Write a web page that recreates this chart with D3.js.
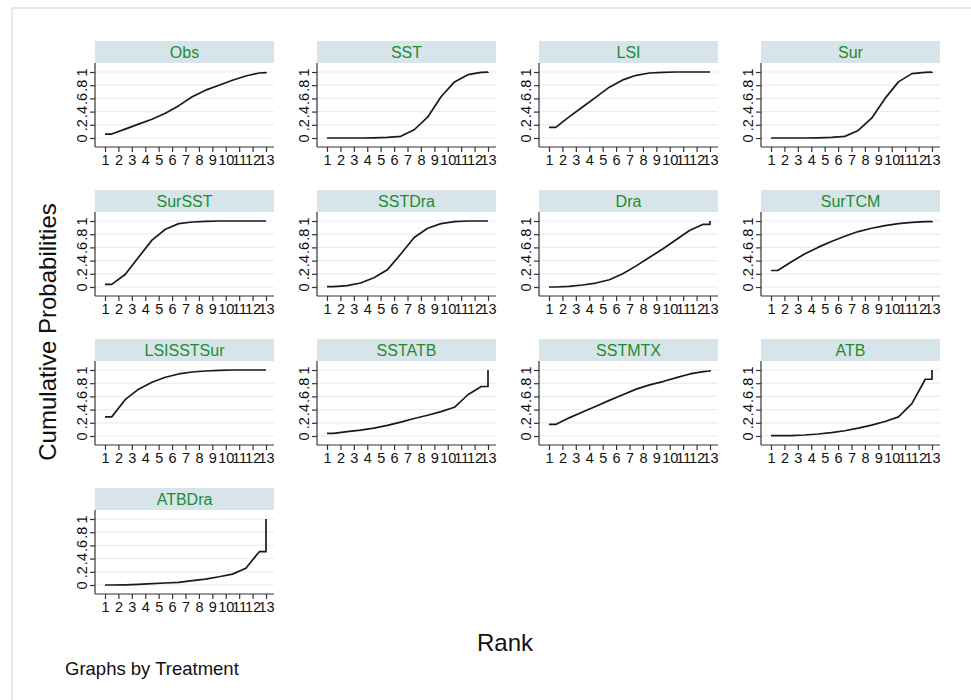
<!DOCTYPE html>
<html>
<head>
<meta charset="utf-8">
<script src="https://cdn.jsdelivr.net/npm/d3@7"></script>
<style>
  body { margin: 0; background: #ffffff; }
  svg { font-family: "Liberation Sans", Arial, sans-serif; }
</style>
</head>
<body>
<script>
// treatments, in panel order
var treatments = ["Obs", "SST", "LSI", "Sur", "SurSST", "SSTDra", "Dra", "SurTCM",
                  "LSISSTSur", "SSTATB", "SSTMTX", "ATB", "ATBDra"];

// rank positions of the plotted points (start, mid-ranks, end, end jump)
var ranks = [1, 1.5, 2.5, 3.5, 4.5, 5.5, 6.5, 7.5, 8.5, 9.5, 10.5, 11.5, 12.5, 13, 13];

// cumulative probabilities for each treatment
var obs       = [0.06, 0.06, 0.135, 0.21, 0.285, 0.375, 0.49, 0.625, 0.725, 0.80, 0.875, 0.94, 0.985, 0.99, 1];
var sst       = [0, 0, 0, 0, 0.002, 0.008, 0.025, 0.125, 0.315, 0.625, 0.85, 0.96, 0.995, 0.998, 1];
var lsi       = [0.16, 0.16, 0.32, 0.47, 0.62, 0.77, 0.88, 0.95, 0.985, 0.995, 1, 1, 1, 1, 1];
var sur       = [0, 0, 0, 0, 0.002, 0.008, 0.025, 0.115, 0.30, 0.60, 0.85, 0.975, 0.995, 0.998, 1];
var surSST    = [0.04, 0.04, 0.19, 0.45, 0.71, 0.875, 0.96, 0.985, 0.995, 1, 1, 1, 1, 1, 1];
var sstDra    = [0.005, 0.005, 0.02, 0.06, 0.14, 0.26, 0.50, 0.75, 0.89, 0.96, 0.99, 1, 1, 1, 1];
var dra       = [0, 0, 0.01, 0.03, 0.06, 0.11, 0.20, 0.32, 0.45, 0.58, 0.72, 0.86, 0.95, 0.95, 1];
var surTCM    = [0.25, 0.25, 0.38, 0.50, 0.60, 0.69, 0.77, 0.84, 0.89, 0.93, 0.96, 0.98, 0.99, 0.99, 1];
var lsiSSTSur = [0.29, 0.29, 0.55, 0.71, 0.815, 0.89, 0.94, 0.97, 0.985, 0.995, 1, 1, 1, 1, 1];
var sstATB    = [0.04, 0.04, 0.065, 0.09, 0.12, 0.16, 0.21, 0.265, 0.315, 0.37, 0.435, 0.625, 0.75, 0.75, 1];
var sstMTX    = [0.175, 0.175, 0.275, 0.365, 0.45, 0.54, 0.625, 0.71, 0.775, 0.825, 0.885, 0.94, 0.975, 0.985, 1];
var atb       = [0.005, 0.005, 0.007, 0.015, 0.03, 0.05, 0.08, 0.12, 0.165, 0.22, 0.29, 0.49, 0.86, 0.86, 1];
var atbDra    = [0, 0, 0.003, 0.01, 0.02, 0.03, 0.04, 0.065, 0.09, 0.125, 0.165, 0.255, 0.505, 0.505, 1];

var series = [obs, sst, lsi, sur, surSST, sstDra, dra, surTCM, lsiSSTSur, sstATB, sstMTX, atb, atbDra];

// axis ticks
var xTicks = [1, 2, 3, 4, 5, 6, 7, 8, 9, 10, 11, 12, 13];
var yTicks = [0, 0.2, 0.4, 0.6, 0.8, 1];
var yTickLabels = ["0", ".2", ".4", ".6", ".8", "1"];

var width = 971,
    height = 700,
    ncol = 4,
    colLeft = 95,
    colStep = 222,
    rowTop = 41,
    rowStep = 149,
    panelWidth = 179,
    stripHeight = 22;

var svg = d3.select("body")
    .append("svg")
    .attr("width", width)
    .attr("height", height);

// light outer frame
svg.append("rect")
    .attr("x", 12)
    .attr("y", 8)
    .attr("width", width)
    .attr("height", height)
    .attr("fill", "#ffffff")
    .attr("stroke", "#e2eaed")
    .attr("stroke-width", 2);

var xScale = d3.scaleLinear()
    .domain([1, 13])
    .range([10, 171]);

// y measured from the top of the strip
var yScale = d3.scaleLinear()
    .domain([0, 1])
    .range([97, 31]);

var axisY = 106;

var line = d3.line()
    .x(function(d) { return xScale(d[0]); })
    .y(function(d) { return yScale(d[1]); });

treatments.forEach(function(name, i) {
    var col = i % ncol,
        row = Math.floor(i / ncol);

    var g = svg.append("g")
        .attr("transform", "translate(" + (colLeft + col * colStep) + "," + (rowTop + row * rowStep) + ")");

    // strip
    g.append("rect")
        .attr("x", 0)
        .attr("y", 0)
        .attr("width", panelWidth)
        .attr("height", stripHeight)
        .attr("fill", "#d7e5ea");

    g.append("text")
        .attr("x", panelWidth / 2)
        .attr("y", stripHeight / 2)
        .attr("dy", "0.36em")
        .attr("text-anchor", "middle")
        .attr("fill", "#1e8c2e")
        .style("font-size", "16px")
        .text(name);

    // gridlines
    g.selectAll("line.grid")
        .data(yTicks)
        .enter()
        .append("line")
            .attr("class", "grid")
            .attr("x1", 0)
            .attr("x2", panelWidth)
            .attr("y1", function(d) { return yScale(d); })
            .attr("y2", function(d) { return yScale(d); })
            .attr("stroke", "#e6eef1")
            .attr("stroke-width", 1.2);

    // curve
    var pts = ranks.map(function(r, j) { return [r, series[i][j]]; });
    g.append("path")
        .datum(pts)
        .attr("fill", "none")
        .attr("stroke", "#1a1a1a")
        .attr("stroke-width", 1.7)
        .attr("stroke-linejoin", "round")
        .attr("d", line);

    // x axis
    var xAxis = d3.axisBottom(xScale)
        .tickValues(xTicks)
        .tickSize(5)
        .tickPadding(3)
        .tickSizeOuter(0)
        .tickFormat(d3.format("d"));

    var xg = g.append("g")
        .attr("transform", "translate(0," + axisY + ")")
        .call(xAxis);
    xg.select(".domain").attr("d", "M0,0H" + panelWidth);
    xg.selectAll("path, line").attr("stroke", "#333333").attr("stroke-width", 1.2);
    xg.selectAll("text")
        .attr("fill", "#111111")
        .style("font-size", "14.5px")
        .style("font-family", "'Liberation Sans', Arial, sans-serif");

    // y axis
    var yAxis = d3.axisLeft(yScale)
        .tickValues(yTicks)
        .tickSize(5)
        .tickSizeOuter(0)
        .tickFormat(function(d, k) { return yTickLabels[k]; });

    var yg = g.append("g").call(yAxis);
    yg.select(".domain").attr("d", "M0," + stripHeight + "V" + axisY);
    yg.selectAll("path, line").attr("stroke", "#333333").attr("stroke-width", 1.2);
    yg.selectAll("text")
        .attr("transform", "rotate(-90)")
        .attr("x", 0)
        .attr("y", -8)
        .attr("dy", 0)
        .attr("text-anchor", "middle")
        .attr("fill", "#111111")
        .style("font-size", "14.5px")
        .style("font-family", "'Liberation Sans', Arial, sans-serif");
});

// titles
svg.append("text")
    .attr("transform", "translate(56,332) rotate(-90)")
    .attr("text-anchor", "middle")
    .attr("fill", "#111111")
    .style("font-size", "24px")
    .text("Cumulative Probabilities");

svg.append("text")
    .attr("x", 505)
    .attr("y", 651)
    .attr("text-anchor", "middle")
    .attr("fill", "#111111")
    .style("font-size", "24px")
    .text("Rank");

svg.append("text")
    .attr("x", 65)
    .attr("y", 675)
    .attr("fill", "#111111")
    .style("font-size", "18.5px")
    .text("Graphs by Treatment");
</script>
</body>
</html>
